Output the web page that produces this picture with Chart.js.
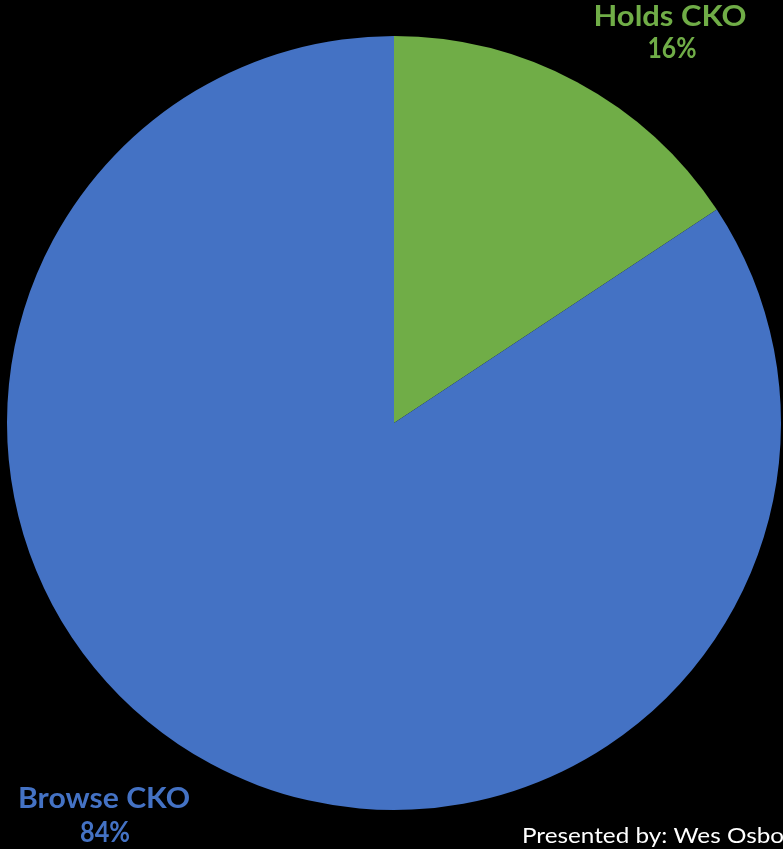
<!DOCTYPE html>
<html>
<head>
<meta charset="utf-8">
<script src="https://cdn.jsdelivr.net/npm/chart.js@4"></script>
<style>
  html, body { margin: 0; padding: 0; background: #000; }
  #wrap { position: relative; width: 783px; height: 849px; }
  canvas { display: block; }
</style>
</head>
<body>
<div id="wrap"><canvas id="c" width="783" height="849"></canvas></div>
<script>
const categories = ["Holds CKO", "Browse CKO"];
const values = [15.7, 84.3];
const colors = ["#70AD47", "#4472C4"];
const footerText = "Presented by: Wes Osbo";

function fitText(ctx, text, x, y, width) {
  const w = ctx.measureText(text).width;
  ctx.save();
  ctx.translate(x, y);
  ctx.scale(width / w, 1);
  ctx.fillText(text, 0, 0);
  ctx.restore();
}

const labelPlugin = {
  id: 'cornerLabels',
  afterDraw(chart) {
    const ctx = chart.ctx;
    ctx.save();
    ctx.textAlign = 'center';
    ctx.textBaseline = 'alphabetic';
    ctx.font = 'bold 28px Lato';
    // Holds CKO (top right)
    ctx.fillStyle = colors[0];
    fitText(ctx, categories[0], 670, 26, 153);
    fitText(ctx, Math.round(values[0]) + '%', 672, 58, 49);
    // Browse CKO (bottom left)
    ctx.fillStyle = colors[1];
    fitText(ctx, categories[1], 104, 808, 172);
    fitText(ctx, Math.round(values[1]) + '%', 105, 842, 50);
    // footer
    ctx.fillStyle = '#ffffff';
    ctx.textAlign = 'left';
    ctx.font = '21px Lato';
    fitText(ctx, footerText, 522, 843, 262);
    ctx.restore();
  }
};

new Chart(document.getElementById('c'), {
  type: 'pie',
  data: {
    labels: categories,
    datasets: [{
      data: values,
      backgroundColor: colors,
      borderWidth: 0
    }]
  },
  options: {
    responsive: false,
    animation: false,
    layout: { padding: { left: 7, right: 2, top: 36, bottom: 39 } },
    plugins: {
      legend: { display: false },
      tooltip: { enabled: false },
      title: { display: false }
    }
  },
  plugins: [labelPlugin]
});
</script>
</body>
</html>
